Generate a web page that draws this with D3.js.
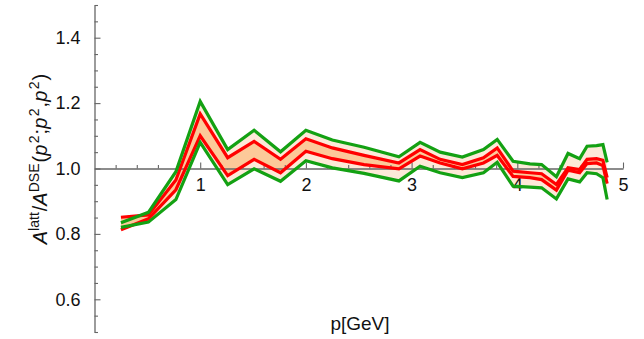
<!DOCTYPE html>
<html>
<head>
<meta charset="utf-8">
<script src="https://cdn.jsdelivr.net/npm/d3@7"></script>
<style>
  body { margin: 0; background: #fff; }
  svg { display: block; font-family: "Liberation Sans", Arial, sans-serif; }
</style>
</head>
<body>
<script>
// momenta (GeV) and the four curves
var pVals   = [0.25, 0.51, 0.77, 1.0, 1.26, 1.51, 1.76, 2.0, 2.25, 2.55, 2.88, 3.08, 3.27, 3.48, 3.68, 3.81, 3.96, 4.12, 4.23, 4.37, 4.48, 4.59, 4.66, 4.75, 4.81, 4.85];
var greenUp = [0.834, 0.866, 0.990, 1.205, 1.058, 1.117, 1.051, 1.117, 1.087, 1.065, 1.036, 1.080, 1.050, 1.035, 1.058, 1.089, 1.022, 1.014, 1.012, 0.975, 1.046, 1.030, 1.068, 1.070, 1.073, 1.019];
var redUp   = [0.851, 0.858, 0.965, 1.167, 1.033, 1.083, 1.028, 1.091, 1.063, 1.040, 1.017, 1.058, 1.028, 1.012, 1.033, 1.063, 0.992, 0.987, 0.984, 0.951, 1.002, 0.997, 1.028, 1.030, 1.025, 0.972];
var redLo   = [0.813, 0.846, 0.935, 1.100, 0.978, 1.028, 0.987, 1.053, 1.030, 1.012, 0.999, 1.038, 1.017, 0.999, 1.017, 1.040, 0.976, 0.972, 0.966, 0.934, 0.995, 0.987, 1.015, 1.017, 1.009, 0.954];
var greenLo = [0.820, 0.836, 0.905, 1.080, 0.951, 0.999, 0.961, 1.024, 1.002, 0.985, 0.962, 1.007, 0.987, 0.972, 0.987, 1.019, 0.946, 0.943, 0.941, 0.907, 0.968, 0.959, 0.987, 0.984, 0.972, 0.905];

var xMajor = [1, 2, 3, 4, 5];
var xMinor = [0.2, 0.4, 0.6, 0.8, 1.2, 1.4, 1.6, 1.8, 2.2, 2.4, 2.6, 2.8, 3.2, 3.4, 3.6, 3.8, 4.2, 4.4, 4.6, 4.8];
var yMajor = [0.6, 0.8, 1.0, 1.2, 1.4];
var yMinor = [0.5, 0.55, 0.65, 0.7, 0.75, 0.85, 0.9, 0.95, 1.05, 1.1, 1.15, 1.25, 1.3, 1.35, 1.45, 1.5];

var w = 644, h = 339;
var svg = d3.select('body').append('svg')
  .attr('width', w)
  .attr('height', h);

var x = d3.scaleLinear().domain([0, 5]).range([94.5, 623]);
var y = d3.scaleLinear().domain([0.5, 1.5]).range([332, 5]);
var axisY = 1.0; // x axis crosses here

function pts(arr) {
  return arr.map(function (v, i) { return [pVals[i], v]; });
}

// bands
var band = function (hi, lo) {
  return d3.area()
    .x(function (d, i) { return x(pVals[i]); })
    .y0(function (d, i) { return y(lo[i]); })
    .y1(function (d, i) { return y(hi[i]); })(pVals);
};
svg.append('path').attr('d', band(greenUp, greenLo)).attr('fill', '#fde9d8');
svg.append('path').attr('d', band(redUp, redLo)).attr('fill', '#fcc999');

// axes
var axisColor = '#666';
var gy = svg.append('g').attr('transform', 'translate(' + x(0) + ',0)');
gy.call(d3.axisLeft(y).tickValues(yMajor).tickSizeInner(-6).tickSizeOuter(0)
  .tickPadding(14).tickFormat(d3.format('.1f')));
gy.append('g').call(d3.axisLeft(y).tickValues(yMinor).tickSizeInner(-3.5).tickSizeOuter(0).tickFormat(''))
  .select('.domain').remove();

var gx = svg.append('g').attr('transform', 'translate(0,' + y(axisY) + ')');
gx.call(d3.axisBottom(x).tickValues(xMajor).tickSizeInner(-6).tickSizeOuter(0)
  .tickPadding(10).tickFormat(d3.format('d')));
gx.append('g').call(d3.axisBottom(x).tickValues(xMinor).tickSizeInner(-3.5).tickSizeOuter(0).tickFormat(''))
  .select('.domain').remove();

svg.selectAll('.domain').attr('stroke', axisColor).attr('stroke-width', 1.3);
svg.selectAll('.tick line').attr('stroke', axisColor).attr('stroke-width', 1.1);
svg.selectAll('.tick text').attr('font-size', '18px').attr('fill', '#111')
  .attr('font-family', '"Liberation Sans", Arial, sans-serif');

// curves
var line = d3.line()
  .x(function (d) { return x(d[0]); })
  .y(function (d) { return y(d[1]); });

[redUp, redLo].forEach(function (s) {
  svg.append('path').attr('d', line(pts(s)))
    .attr('fill', 'none').attr('stroke', '#ff0000').attr('stroke-width', 3.2);
});
[greenUp, greenLo].forEach(function (s) {
  svg.append('path').attr('d', line(pts(s)))
    .attr('fill', 'none').attr('stroke', '#13a113').attr('stroke-width', 3.2);
});

// labels
svg.append('text')
  .attr('x', 360).attr('y', 330)
  .attr('text-anchor', 'middle')
  .attr('font-size', '19px')
  .attr('fill', '#111')
  .text('p[GeV]');

var ylab = svg.append('text')
  .attr('transform', 'translate(47,159) rotate(-90)')
  .attr('text-anchor', 'middle')
  .attr('font-size', '20px')
  .attr('fill', '#111');
var parts = [
  ['A', 'i'], ['latt', 's'], ['/', 'n'], ['A', 'i'], ['DSE', 's'], ['(', 'n'],
  ['p', 'i'], ['2', 's'], [';', 'n'], ['p', 'i'], ['2', 's'], [',', 'n'],
  ['p', 'i'], ['2', 's'], [')', 'n']
];
var up = false;
parts.forEach(function (p) {
  var t = ylab.append('tspan').text(p[0]);
  if (p[1] === 's') {
    t.attr('font-size', '14px').attr('dy', up ? 0 : -8).attr('dx', p[0] === '2' ? 1.5 : 0);
    up = true;
  } else {
    t.attr('dy', up ? 8 : 0);
    if (up) t.attr('dx', 1);
    up = false;
    if (p[1] === 'i') t.attr('font-style', 'italic');
  }
});
</script>
</body>
</html>
